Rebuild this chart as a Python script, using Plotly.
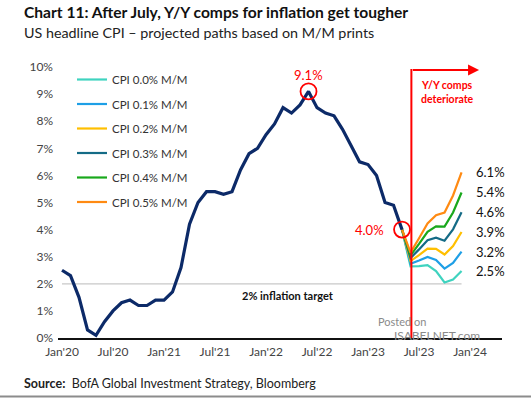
import plotly.graph_objects as go

# ---------------- data ----------------
# Actual US headline CPI Y/Y (%), Jan'20 .. May'23 (month index 0..40)
cpi_actual = [2.5, 2.3, 1.5, 0.3, 0.1, 0.6, 1.0, 1.3, 1.4, 1.2, 1.2, 1.4,
              1.4, 1.7, 2.6, 4.2, 5.0, 5.4, 5.4, 5.3, 5.4, 6.2, 6.8, 7.0,
              7.5, 7.9, 8.5, 8.3, 8.6, 9.1, 8.5, 8.3, 8.2, 7.7, 7.1, 6.5,
              6.4, 6.0, 5.0, 4.9, 4.0]
actual_idx = list(range(len(cpi_actual)))

# Projected paths May'23 .. Dec'23 (month index 40..47)
proj_idx = list(range(40, 48))
proj_names = ["CPI 0.0% M/M", "CPI 0.1% M/M", "CPI 0.2% M/M",
              "CPI 0.3% M/M", "CPI 0.4% M/M", "CPI 0.5% M/M"]
proj_00 = [4.0, 2.64, 2.65, 2.69, 2.47, 2.05, 2.16, 2.47]
proj_01 = [4.0, 2.74, 2.86, 2.99, 2.88, 2.56, 2.77, 3.19]
proj_02 = [4.0, 2.84, 3.06, 3.30, 3.29, 3.08, 3.39, 3.91]
proj_03 = [4.0, 2.95, 3.27, 3.61, 3.70, 3.59, 4.01, 4.64]
proj_04 = [4.0, 3.05, 3.47, 3.92, 4.12, 4.11, 4.63, 5.37]
proj_05 = [4.0, 3.15, 3.68, 4.23, 4.53, 4.63, 5.26, 6.11]
proj_vals = [proj_00, proj_01, proj_02, proj_03, proj_04, proj_05]
proj_labels = ["2.5%", "3.2%", "3.9%", "4.6%", "5.4%", "6.1%"]

tick_vals = [0, 6, 12, 18, 24, 30, 36, 42, 48]
tick_text = ["Jan'20", "Jul'20", "Jan'21", "Jul'21", "Jan'22", "Jul'22",
             "Jan'23", "Jul'23", "Jan'24"]
y_ticks = [0, 1, 2, 3, 4, 5, 6, 7, 8, 9, 10]
target = 2.0
peak_idx, peak_val = 29, 9.1
last_idx, last_val = 40, 4.0
break_idx = 41.1

# ---------------- style ----------------
FONT = "Lato"
proj_colors = ["#3fd3bf", "#1e9fe6", "#ffbf00", "#146b86", "#19a81c", "#ff8a12"]
NAVY = "#0c2a68"
RED = "#ff0000"

# pixel helpers (plot area: x 58..502, y 67..338)
def X(px):
    return (px - 58) / 8.5 - 0.47

def Y(py):
    return (338 - py) / 27.1

def PY(py):
    return (338 - py) / 271

def PX(px):
    return (px - 58) / 444

fig = go.Figure()

# 2% target line
fig.add_trace(go.Scatter(x=[0, 47], y=[target, target], mode="lines",
                         line=dict(color="#c8c8c8", width=1.3),
                         showlegend=False, hoverinfo="skip"))

for i, (name, vals, col) in enumerate(zip(proj_names, proj_vals, proj_colors)):
    fig.add_trace(go.Scatter(x=proj_idx, y=vals, mode="lines", name=name,
                             legendgroup=f"g{i}",
                             line=dict(color=col, width=2.2)))

fig.add_trace(go.Scatter(x=actual_idx, y=cpi_actual, mode="lines",
                         line=dict(color=NAVY, width=3.2),
                         showlegend=False))

annotations = []
# end labels
for vals, lab in zip(proj_vals, proj_labels):
    annotations.append(dict(x=X(474), y=vals[-1], xref="x", yref="y",
                            text=lab, showarrow=False, xanchor="left",
                            font=dict(family=FONT, size=13, color="#111")))
# peak
annotations.append(dict(x=peak_idx, y=Y(75), xref="x", yref="y", text="9.1%",
                        showarrow=False, xanchor="center",
                        font=dict(family=FONT, size=13, color=RED)))
annotations.append(dict(x=X(386), y=last_val, xref="x", yref="y", text="4.0%",
                        showarrow=False, xanchor="right",
                        font=dict(family=FONT, size=13, color=RED)))
# arrow
annotations.append(dict(x=X(479), y=Y(70), ax=break_idx, ay=Y(70),
                        xref="x", yref="y", axref="x", ayref="y", text="",
                        showarrow=True, arrowhead=2, arrowsize=1.1,
                        arrowwidth=2, arrowcolor=RED))
annotations.append(dict(x=X(447), y=Y(92), xref="x", yref="y",
                        text="<b>Y/Y comps<br>deteriorate</b>", showarrow=False,
                        xanchor="center",
                        font=dict(family=FONT, size=10.5, color=RED)))
annotations.append(dict(x=X(288), y=Y(295), xref="x", yref="y",
                        text="<b>2% inflation target</b>", showarrow=False,
                        xanchor="center",
                        font=dict(family=FONT, size=11, color="#111")))
# watermark
annotations.append(dict(x=PX(402), y=PY(330), xref="paper", yref="paper", text="Posted on",
                        showarrow=False, xanchor="center",
                        font=dict(family=FONT, size=11, color="#8a8a8a")))
annotations.append(dict(x=PX(437), y=PY(345), xref="paper", yref="paper", text="ISABELNET.com",
                        showarrow=False, xanchor="center",
                        font=dict(family=FONT, size=12, color="#8a8a8a")))
# titles
annotations.append(dict(x=PX(22), y=PY(12), xref="paper", yref="paper",
                        text="<b>Chart 11: After July, Y/Y comps for inflation get tougher</b>",
                        showarrow=False, xanchor="left", yanchor="middle",
                        font=dict(family=FONT, size=15.6, color="#111")))
annotations.append(dict(x=PX(22), y=PY(33), xref="paper", yref="paper",
                        text="US headline CPI \u2013 projected paths based on M/M prints",
                        showarrow=False, xanchor="left", yanchor="middle",
                        font=dict(family=FONT, size=14.3, color="#222")))
annotations.append(dict(x=PX(22), y=PY(383), xref="paper", yref="paper",
                        text="<b>Source:</b>  BofA Global Investment Strategy, Bloomberg",
                        showarrow=False, xanchor="left", yanchor="middle",
                        font=dict(family=FONT, size=12.5, color="#222")))

shapes = [
    dict(type="line", xref="x", yref="y", x0=break_idx, x1=break_idx, y0=0, y1=Y(69),
         line=dict(color=RED, width=2)),
    dict(type="circle", xref="x", yref="y", xsizemode="pixel", ysizemode="pixel",
         xanchor=peak_idx, yanchor=peak_val, x0=-8, x1=8, y0=-8, y1=8,
         line=dict(color=RED, width=1.8)),
    dict(type="circle", xref="x", yref="y", xsizemode="pixel", ysizemode="pixel",
         xanchor=last_idx, yanchor=last_val, x0=-8, x1=8, y0=-8, y1=8,
         line=dict(color=RED, width=1.8)),
    dict(type="line", xref="paper", yref="paper", x0=PX(0), x1=PX(531),
         y0=PY(396.5), y1=PY(396.5),
         line=dict(color="#8c8c8c", width=2)),
]

fig.update_layout(
    width=531, height=398,
    margin=dict(l=58, r=29, t=67, b=60),
    paper_bgcolor="white", plot_bgcolor="white",
    font=dict(family=FONT, size=12, color="#444"),
    showlegend=True,
    legend=dict(x=PX(72), y=PY(65), xanchor="left", yanchor="top",
                bgcolor="rgba(0,0,0,0)", tracegroupgap=5.5,
                font=dict(family=FONT, size=11.5, color="#333")),
    annotations=annotations,
    shapes=shapes,
    xaxis=dict(range=[-0.47, 51.76], tickmode="array", tickvals=tick_vals,
               ticktext=tick_text, showgrid=False, zeroline=False,
               showline=True, linecolor="#111", linewidth=1.5, ticks="",
               ticklabelstandoff=2,
               tickfont=dict(family=FONT, size=12, color="#444")),
    yaxis=dict(range=[0, 10], tickmode="array", tickvals=y_ticks,
               ticktext=[f"{v}%" for v in y_ticks], showgrid=False,
               zeroline=False, showline=False, ticks="",
               ticklabelstandoff=4,
               tickfont=dict(family=FONT, size=12, color="#444")),
)

fig.write_html("out.html", config={"displayModeBar": False},
               post_script="document.body.style.margin='0';document.body.style.overflow='hidden';")
